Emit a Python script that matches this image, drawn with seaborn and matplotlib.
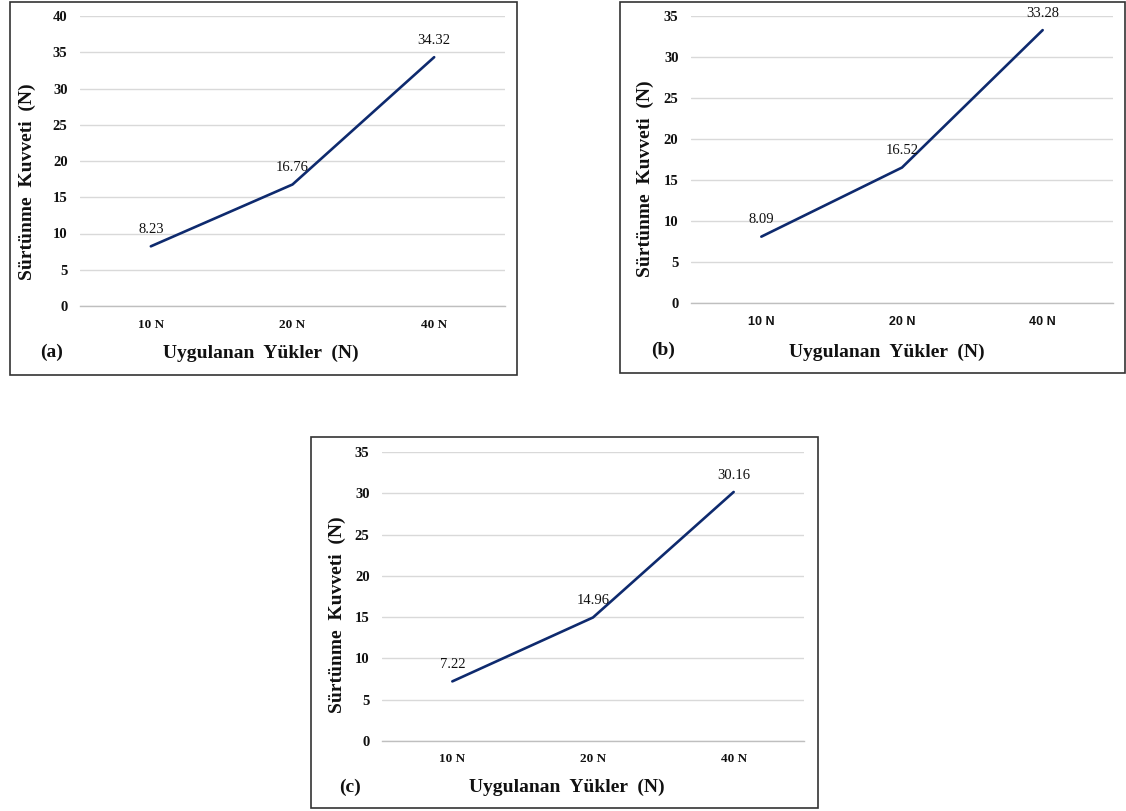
import matplotlib
matplotlib.use('Agg')
import matplotlib.pyplot as plt
import matplotlib.patches as mpatches
import seaborn as sns

# data
loads = ['10 N', '20 N', '40 N']
force_a = [8.23, 16.76, 34.32]
force_b = [8.09, 16.52, 33.28]
force_c = [7.22, 14.96, 30.16]

W, H = 1126, 811
SERIF = 'Liberation Serif'
LINE = '#0E2A6E'
GRID = '#D9D9D9'
INK = '#111111'

sns.set_style('white')
plt.rcParams['font.family'] = [SERIF, 'DejaVu Serif']


def px_rect(l, t, r, b):
    """pixel box (left, top, right, bottom) -> figure fraction rect"""
    return [l / W, 1 - b / H, (r - l) / W, (b - t) / H]


def panel(fig, rect, box, values, ymax, letter, letter_xy, ylab_xy, xlab_xy, xfont=SERIF):
    ax = fig.add_axes(px_rect(*rect))
    sns.lineplot(x=loads, y=values, ax=ax, color=LINE, lw=1.9, sort=False)
    ax.set_xlim(-0.5, 2.5)
    ax.set_ylim(0, ymax)
    ax.set_yticks(range(0, ymax + 1, 5))
    ax.yaxis.grid(True, color=GRID, lw=1)
    ax.set_axisbelow(True)
    for s in ['left', 'top', 'right']:
        ax.spines[s].set_visible(False)
    ax.spines['bottom'].set_color('#BFBFBF')
    ax.spines['bottom'].set_linewidth(1)
    ax.set_xticks([-0.5, 0.5, 1.5, 2.5], minor=True)
    ax.tick_params(axis='x', which='minor', length=4, color='#BFBFBF', width=1)
    ax.tick_params(axis='x', which='major', length=0, pad=9)
    ax.tick_params(axis='y', length=0, pad=9)
    for t in ax.get_yticklabels():
        t.set_fontsize(10.5); t.set_fontweight('bold'); t.set_color(INK)
    for t in ax.get_xticklabels():
        t.set_fontsize(9.5 if xfont == SERIF else 9)
        t.set_fontweight('bold'); t.set_color(INK); t.set_family(xfont)

    for i, v in enumerate(values):
        ax.annotate(f'{v:.2f}', (i, v), xytext=(0, 12), textcoords='offset points',
                    ha='center', va='center', fontsize=10.5, color=INK)

    ax.set_ylabel('Sürtünme  Kuvveti  (N)', fontsize=14, fontweight='bold',
                  color=INK, va='center')
    ax.yaxis.set_label_coords(*ylab_xy)
    ax.set_xlabel('Uygulanan  Yükler  (N)', fontsize=14, fontweight='bold',
                  color=INK, va='center')
    ax.xaxis.set_label_coords(*xlab_xy)

    fig.text(letter_xy[0] / W, 1 - letter_xy[1] / H, letter, fontsize=14,
             fontweight='bold', ha='center', va='center', color=INK)
    fig.patches.append(mpatches.Rectangle(
        (box[0] / W, 1 - box[3] / H), (box[2] - box[0]) / W, (box[3] - box[1]) / H,
        transform=fig.transFigure, fill=False, edgecolor='#333333', lw=1.2))
    return ax


fig = plt.figure(figsize=(W / 100, H / 100), dpi=100)
fig.patch.set_facecolor('white')

panel(fig, (80, 16, 505, 306), (10, 2, 517, 375), force_a, 40, '(a)', (52, 352),
      (-0.125, 0.428), (0.426, -0.162))
panel(fig, (691, 16, 1113, 303), (620, 2, 1125, 373), force_b, 35, '(b)', (663, 350),
      (-0.109, 0.432), (0.464, -0.171), xfont='Liberation Sans')
panel(fig, (382, 452, 804, 741), (311, 437, 818, 808), force_c, 35, '(c)', (350, 787),
      (-0.107, 0.436), (0.437, -0.159))

fig.savefig('out.png', dpi=100, facecolor='white')
